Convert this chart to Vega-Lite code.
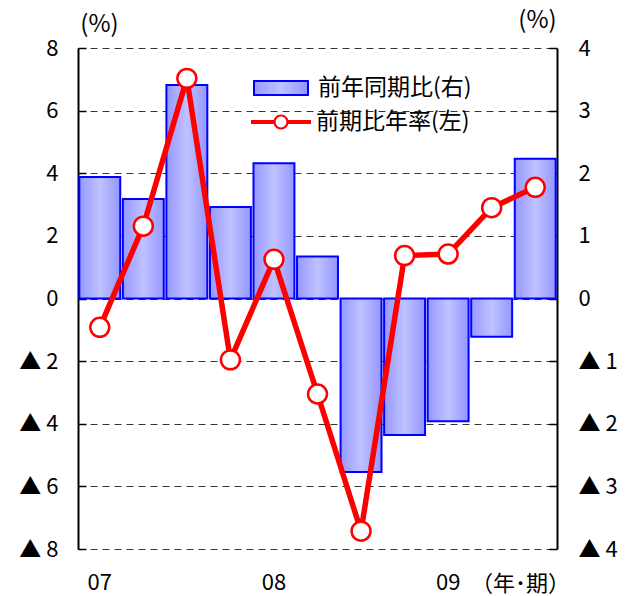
{
  "$schema": "https://vega.github.io/schema/vega-lite/v6.json",
  "width": 479,
  "height": 501,
  "autosize": "none",
  "padding": {"left": 78, "top": 48, "right": 70, "bottom": 47},
  "background": "white",
  "config": {
    "view": {"stroke": null},
    "font": "Noto Sans CJK JP",
    "axis": {"labelFont": "Noto Sans CJK JP", "titleFont": "Noto Sans CJK JP", "labelColor": "#000", "titleColor": "#000"}
  },
  "data": {
    "values": [
      {"q": "07-1", "yoy": 1.94, "qoq": -0.92},
      {"q": "07-2", "yoy": 1.59, "qoq": 2.31},
      {"q": "07-3", "yoy": 3.41, "qoq": 7.03},
      {"q": "07-4", "yoy": 1.46, "qoq": -1.96},
      {"q": "08-1", "yoy": 2.16, "qoq": 1.25},
      {"q": "08-2", "yoy": 0.67, "qoq": -3.05},
      {"q": "08-3", "yoy": -2.77, "qoq": -7.43},
      {"q": "08-4", "yoy": -2.18, "qoq": 1.37},
      {"q": "09-1", "yoy": -1.96, "qoq": 1.42},
      {"q": "09-2", "yoy": -0.61, "qoq": 2.9},
      {"q": "09-3", "yoy": 2.23, "qoq": 3.55}
    ]
  },
  "encoding": {
    "x": {
      "field": "q",
      "type": "ordinal",
      "sort": null,
      "scale": {"paddingInner": 0.06, "paddingOuter": 0.03},
      "axis": {
        "domain": false,
        "ticks": false,
        "labelAngle": 0,
        "labelFontSize": 22,
        "labelPadding": 23,
        "labelBaseline": "top",
        "labelExpr": "substring(datum.value, 3) == '1' ? substring(datum.value, 0, 2) : ''",
        "title": "（年･期）",
        "titleFontSize": 22,
        "titleFontWeight": "normal",
        "titleX": 442,
        "titleY": 34,
        "titleAlign": "center",
        "titleBaseline": "middle"
      }
    }
  },
  "layer": [
    {
      "layer": [
        {
          "mark": {
            "type": "bar",
            "fill": {
              "gradient": "linear",
              "x1": 0, "y1": 0, "x2": 1, "y2": 0,
              "stops": [
                {"offset": 0, "color": "#9698ff"},
                {"offset": 0.5, "color": "#c0c2ff"},
                {"offset": 1, "color": "#9496ff"}
              ]
            },
            "strokeWidth": 2
          },
          "encoding": {
            "y": {
              "field": "yoy",
              "type": "quantitative",
              "scale": {"domain": [-4, 4], "nice": false},
              "axis": {
                "orient": "right",
                "values": [-4, -3, -2, -1, 0, 1, 2, 3, 4],
                "grid": false,
                "domainColor": "#000",
                "domainWidth": 2,
                "tickColor": "#000",
                "tickWidth": 1.5,
                "tickSize": -8,
                "labelPadding": 29,
                "labelFontSize": 22,
                "labelExpr": "datum.value < 0 ? '▲ ' + (-datum.value) : '' + datum.value",
                "title": "(%)",
                "titleFontSize": 24,
                "titleFontWeight": "normal",
                "titleAngle": 0,
                "titleX": -20,
                "titleY": -28,
                "titleAlign": "center",
                "titleBaseline": "middle"
              }
            },
            "stroke": {
              "datum": "前年同期比(右)",
              "type": "nominal",
              "scale": {"range": ["#0000ff"]},
              "legend": {
                "title": null,
                "orient": "none",
                "legendX": 175,
                "legendY": 12,
                "padding": 0,
                "symbolType": "M-1,-0.26H1V0.26H-1Z",
                "symbolSize": 2916,
                "symbolStrokeWidth": 2,
                "labelFont": "Noto Sans CJK JP",
                "labelFontSize": 23,
                "labelColor": "#000",
                "labelOffset": 9,
                "encode": {
                  "symbols": {
                    "update": {
                      "fill": {
                        "value": {
                          "gradient": "linear",
                          "x1": 0, "y1": 0, "x2": 1, "y2": 0,
                          "stops": [
                            {"offset": 0, "color": "#9698ff"},
                            {"offset": 0.5, "color": "#c0c2ff"},
                            {"offset": 1, "color": "#9496ff"}
                          ]
                        }
                      },
                      "fillOpacity": {"value": 1}
                    }
                  }
                }
              }
            }
          }
        },
        {
          "mark": {"type": "rule", "color": "#000", "strokeWidth": 1.5},
          "encoding": {"y": {"datum": 0}}
        }
      ]
    },
    {
      "layer": [
        {
          "mark": {"type": "line", "strokeWidth": 5.5},
          "encoding": {
            "y": {
              "field": "qoq",
              "type": "quantitative",
              "scale": {"domain": [-8, 8], "nice": false},
              "axis": {
                "orient": "left",
                "values": [-8, -6, -4, -2, 0, 2, 4, 6, 8],
                "grid": true,
                "gridColor": "#333",
                "gridDash": [7, 5],
                "gridWidth": 1,
                "domainColor": "#000",
                "domainWidth": 2,
                "tickColor": "#000",
                "tickWidth": 1.5,
                "tickSize": -8,
                "labelPadding": 28,
                "labelFontSize": 22,
                "labelExpr": "datum.value < 0 ? '▲ ' + (-datum.value) : '' + datum.value",
                "title": "(%)",
                "titleFontSize": 24,
                "titleFontWeight": "normal",
                "titleAngle": 0,
                "titleX": 21,
                "titleY": -24,
                "titleAlign": "center",
                "titleBaseline": "middle"
              }
            },
            "stroke": {
              "datum": "前期比年率(左)",
              "type": "nominal",
              "scale": {"range": ["#ff0000"]},
              "legend": {
                "title": null,
                "orient": "none",
                "legendX": 173,
                "legendY": 44,
                "padding": 0,
                "symbolType": "M-1,-0.07H-0.24V0.07H-1Z M0.24,-0.07H1V0.07H0.24Z M-0.25,0A0.25,0.25 0 1,1 0.25,0A0.25,0.25 0 1,1 -0.25,0Z M-0.18,0A0.18,0.18 0 1,0 0.18,0A0.18,0.18 0 1,0 -0.18,0Z",
                "symbolSize": 3600,
                "symbolStrokeWidth": 0,
                "labelFont": "Noto Sans CJK JP",
                "labelFontSize": 23,
                "labelColor": "#000",
                "labelOffset": 5,
                "encode": {
                  "symbols": {
                    "update": {
                      "fill": {"value": "#ff0000"},
                      "fillOpacity": {"value": 1},
                      "strokeWidth": {"value": 0}
                    }
                  }
                }
              }
            }
          }
        },
        {
          "mark": {"type": "point", "filled": true, "fill": "#ffffff", "stroke": "#ff0000", "strokeWidth": 2.5, "size": 360, "opacity": 1},
          "encoding": {
            "y": {"field": "qoq", "type": "quantitative"}
          }
        }
      ]
    }
  ],
  "resolve": {
    "scale": {"y": "independent", "stroke": "independent"},
    "legend": {"stroke": "independent"}
  }
}
